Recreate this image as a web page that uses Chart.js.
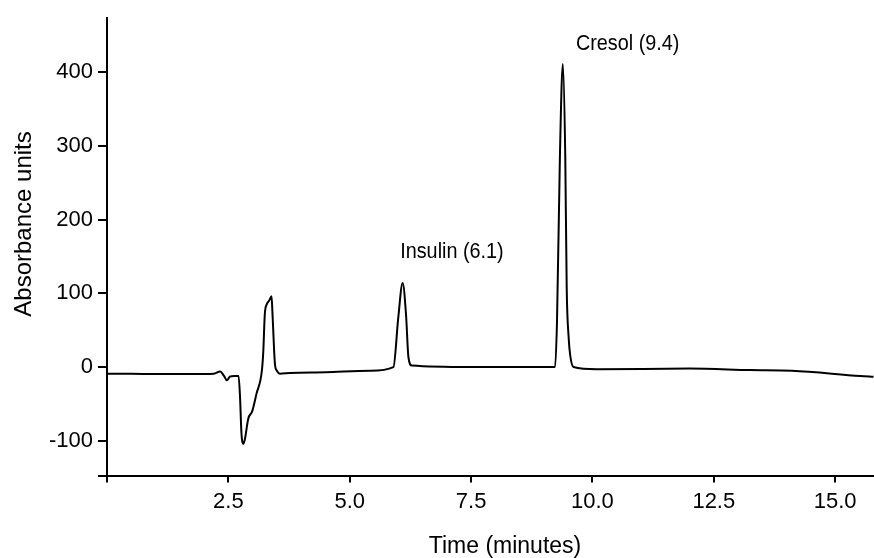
<!DOCTYPE html>
<html>
<head>
<meta charset="utf-8">
<script src="https://cdn.jsdelivr.net/npm/chart.js@4"></script>
<style>
html, body { margin: 0; padding: 0; background: #fff; }
#wrap { width: 874px; height: 558px; }
</style>
</head>
<body>
<div id="wrap"><canvas id="canvas"></canvas></div>
<script>
// chromatogram trace
var times = [0.0, 0.5, 1.0, 1.5, 2.0, 2.2, 2.33, 2.41, 2.47, 2.53, 2.62, 2.71, 2.74, 2.77, 2.81, 2.84, 2.91, 2.99, 3.08, 3.19,
             3.22, 3.25, 3.29, 3.34, 3.39, 3.41, 3.46, 3.50, 3.56, 3.77, 4.5, 5.42, 5.90, 6.00, 6.09, 6.16, 6.21, 6.28, 7.48,
             9.23, 9.27, 9.33, 9.39, 9.44, 9.47, 9.51, 9.54, 9.61, 10.09, 12.0, 13.25, 14.11, 15.52, 15.79];
var absorbance = [-9, -9, -9.5, -9.5, -9.5, -9, -6, -12, -18, -13, -12, -12, -40, -90, -104, -98, -70, -60, -36, -5,
                  22, 71, 85, 90, 96, 71, 4, -5, -9, -8, -7, -5, 0, 67, 114, 71, 13, 2, 0,
                  0, 62, 286, 411, 286, 107, 40, 17, 0, -3, -2, -4, -5, -12, -13];

var xTicks = [0, 2.5, 5.0, 7.5, 10.0, 12.5, 15.0];
var xTickLabels = ['', '2.5', '5.0', '7.5', '10.0', '12.5', '15.0'];
var yTicks = [-100, 0, 100, 200, 300, 400];
var yTickLabels = ['-100', '0', '100', '200', '300', '400'];

var peakLabels = ['Insulin (6.1)', 'Cresol (9.4)'];
var peakLabelX = [6.04, 9.66];
var peakLabelY = [156, 438];

var xTitle = 'Time (minutes)';
var yTitle = 'Absorbance units';

var font = 'Liberation Sans, Arial, sans-serif';

var points = times.map(function (t, i) { return { x: t, y: absorbance[i] }; });

// peak names and axis titles, placed by hand like the original figure
var textLayer = {
    id: 'textLayer',
    afterDraw: function (chart) {
        var c = chart.ctx;
        var xs = chart.scales.x, ys = chart.scales.y;
        c.save();
        c.fillStyle = '#000';
        c.textBaseline = 'middle';

        c.font = '22px ' + font;
        c.textAlign = 'left';
        peakLabels.forEach(function (txt, i) {
            c.save();
            c.translate(xs.getPixelForValue(peakLabelX[i]), ys.getPixelForValue(peakLabelY[i]));
            c.scale(0.9, 1);
            c.fillText(txt, 0, 0);
            c.restore();
        });

        c.textAlign = 'center';
        c.font = '23px ' + font;
        c.fillText(xTitle, 505, 547);

        c.font = '24px ' + font;
        c.translate(24, 224);
        c.rotate(-Math.PI / 2);
        c.fillText(yTitle, 0, 0);
        c.restore();
    }
};

try {
    var ctx = document.getElementById('canvas').getContext('2d');
    var myChart = new Chart(ctx, {
        type: 'line',
        data: {
            datasets: [{
                label: 'Absorbance',
                data: points,
                borderColor: '#000',
                borderWidth: 2,
                pointRadius: 0,
                fill: false,
                cubicInterpolationMode: 'monotone'
            }]
        },
        options: {
            responsive: true,
            maintainAspectRatio: false,
            animation: false,
            layout: { padding: { top: 15, right: 0, bottom: 0, left: 0 } },
            plugins: { legend: { display: false }, tooltip: { enabled: false } },
            scales: {
                x: {
                    type: 'linear',
                    min: 0,
                    max: 15.8,
                    afterBuildTicks: function (s) { s.ticks = xTicks.map(function (v) { return { value: v }; }); },
                    afterFit: function (s) { s.height = 82.5; },
                    border: { color: '#000', width: 2 },
                    grid: { drawOnChartArea: false, color: '#000', lineWidth: 2, tickLength: 7 },
                    ticks: {
                        color: '#000', font: { family: font, size: 22 }, padding: 6,
                        maxRotation: 0, autoSkip: false,
                        callback: function (v, i) { return xTickLabels[i]; }
                    }
                },
                y: {
                    min: -147,
                    max: 473,
                    afterBuildTicks: function (s) {
                        s.ticks = yTicks.map(function (v) { return { value: v }; });
                        s.ticks.push({ value: -147 });
                    },
                    afterFit: function (s) { s.width = 107; },
                    border: { color: '#000', width: 2 },
                    grid: { drawOnChartArea: false, color: '#000', lineWidth: 2, tickLength: 9 },
                    ticks: {
                        color: '#000', font: { family: font, size: 22 }, padding: 5,
                        callback: function (v, i) { return yTickLabels[i] || ''; }
                    }
                }
            }
        },
        plugins: [textLayer]
    });
} catch (e) {
    console.log(e.message);
}
</script>
</body>
</html>
